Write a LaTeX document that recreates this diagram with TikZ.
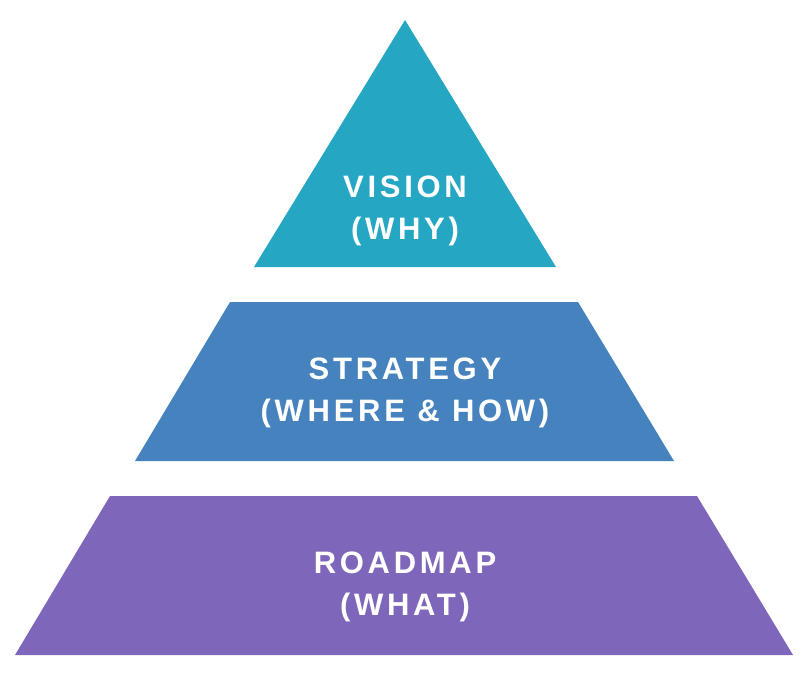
\documentclass[tikz,border=0pt]{standalone}
\usepackage{fontspec}
\newfontfamily\lbl[LetterSpace=12]{Liberation Sans}
\definecolor{cA}{HTML}{25A6C2}
\definecolor{cB}{HTML}{4682BD}
\definecolor{cC}{HTML}{7E66BB}
\begin{document}
\begin{tikzpicture}[x=1pt,y=-1pt,
  lab/.style={text=white,font=\lbl\bfseries\fontsize{31}{42}\selectfont,align=center}]
\useasboundingbox (0,0) rectangle (805,680);
\fill[cA] (405,20) -- (556,267) -- (254,267) -- cycle;
\fill[cB] (230,302) -- (578,302) -- (674,461) -- (135,461) -- cycle;
\fill[cC] (110,496) -- (697,496) -- (793,655) -- (15,655) -- cycle;
\node[lab] (v) at (405,211) {VISION\\(WHY)};
\node[lab] (s) at (405,393) {STRATEGY\\(WHERE \& HOW)};
\node[lab] (r) at (405,587) {ROADMAP\\(WHAT)};
\end{tikzpicture}
\end{document}
